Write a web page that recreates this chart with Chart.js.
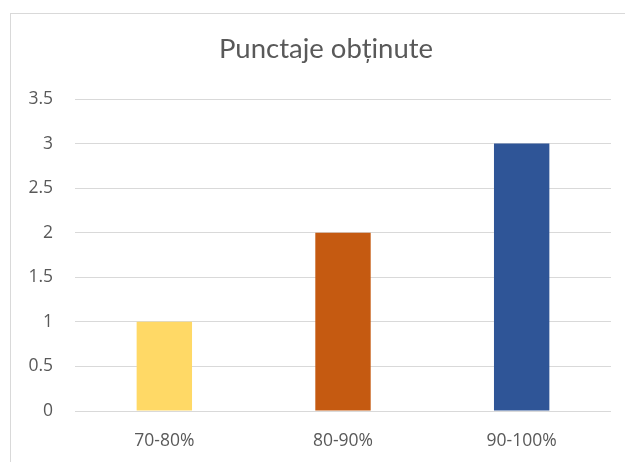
<!DOCTYPE html>
<html>
<head>
<meta charset="utf-8">
<script src="https://cdn.jsdelivr.net/npm/chart.js@4"></script>
<style>
  html, body { margin: 0; padding: 0; background: #fff; }
  #wrap { position: relative; width: 625px; height: 462px; overflow: hidden; }
  #frame {
    position: absolute; left: 10px; top: 13px; width: 700px; height: 500px;
    border-left: 1px solid #d9d9d9; border-top: 1px solid #d9d9d9;
  }
  canvas { position: absolute; left: 0; top: 0; }
</style>
</head>
<body>
<div id="wrap">
  <div id="frame"></div>
  <canvas id="chart" width="625" height="462"></canvas>
</div>
<script>
'use strict';

/* ─── Data ─── */
const categories = ['70-80%', '80-90%', '90-100%'];
const values     = [1, 2, 3];
const barColors  = ['#FFD966', '#C55A11', '#2F5597'];
const yTicks     = [0, 0.5, 1, 1.5, 2, 2.5, 3, 3.5];
const titleText  = 'Punctaje obținute';

const labelColor = '#595959';
const gridColor  = '#d9d9d9';
const tickFont   = { family: "'Open Sans', 'DejaVu Sans', sans-serif", size: 17.5 };

/* ─── Title: the original sits a bit right of the canvas centre ─── */
const titlePlugin = {
  id: 'offsetTitle',
  afterDraw(chart) {
    const ctx = chart.ctx;
    ctx.save();
    ctx.font = "normal 27.5px Lato, 'Open Sans', sans-serif";
    ctx.fillStyle = labelColor;
    ctx.textAlign = 'center';
    ctx.textBaseline = 'alphabetic';
    ctx.fillText(titleText, 326, 58);
    ctx.restore();
  }
};

new Chart(document.getElementById('chart'), {
  type: 'bar',
  data: {
    labels: categories,
    datasets: [{
      data: values,
      backgroundColor: barColors,
      borderWidth: 0,
      categoryPercentage: 1,
      barPercentage: 0.31
    }]
  },
  options: {
    responsive: false,
    animation: false,
    layout: { padding: { left: 0, right: 14, top: 99, bottom: 0 } },
    plugins: {
      legend: { display: false },
      tooltip: { enabled: false },
      title: { display: false }
    },
    scales: {
      x: {
        grid: { display: false, drawTicks: false },
        border: { display: false },
        ticks: { color: labelColor, font: tickFont, padding: 20 },
        afterFit: s => { s.height = 51; }
      },
      y: {
        min: 0,
        max: 3.5,
        afterBuildTicks: s => { s.ticks = yTicks.map(v => ({ value: v })); },
        grid: { color: gridColor, drawTicks: false },
        border: { display: false },
        ticks: { color: labelColor, font: tickFont, padding: 22, callback: v => String(v) },
        afterFit: s => { s.width = 75; }
      }
    }
  },
  plugins: [titlePlugin]
});
</script>
</body>
</html>
